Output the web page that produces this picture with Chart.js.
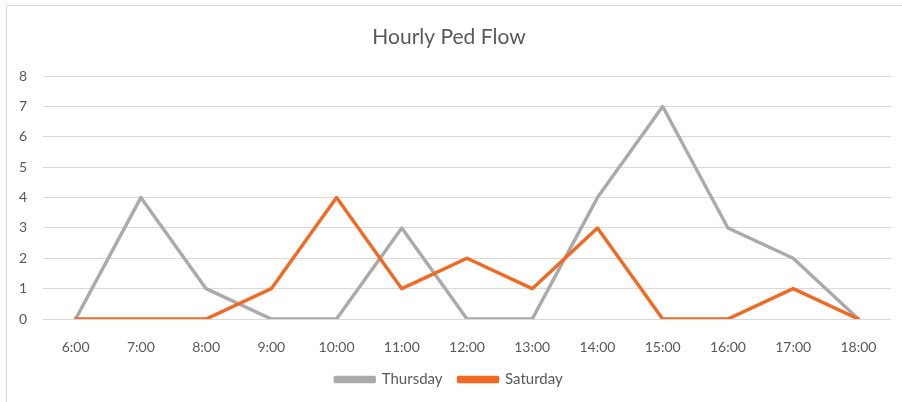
<!DOCTYPE html>
<html>
<head>
<meta charset="utf-8">
<script src="https://cdn.jsdelivr.net/npm/chart.js@4"></script>
<style>
  html, body { margin: 0; padding: 0; background: #fff; overflow: hidden; }
  #wrap { position: relative; width: 902px; height: 402px; }
  #frame {
    position: absolute; left: 6px; top: 5px; width: 904px; height: 404px;
    border: 1px solid #d9d9d9; box-sizing: border-box; pointer-events: none;
  }
  canvas { position: absolute; left: 0; top: 0; }
</style>
</head>
<body>
<div id="wrap">
  <canvas id="flow" width="902" height="402"></canvas>
  <div id="frame"></div>
</div>
<script>
const hours = ['6:00', '7:00', '8:00', '9:00', '10:00', '11:00', '12:00',
  '13:00', '14:00', '15:00', '16:00', '17:00', '18:00'];
const thursday = [0, 4, 1, 0, 0, 3, 0, 0, 4, 7, 3, 2, 0];
const saturday = [0, 0, 0, 1, 4, 1, 2, 1, 3, 0, 0, 1, 0];
const yTicks = [0, 1, 2, 3, 4, 5, 6, 7, 8];

const FONT = 'Lato, "Open Sans", sans-serif';
const GREY = '#aaaaaa';
const ORANGE = '#f26a22';

const ctx = document.getElementById('flow').getContext('2d');

new Chart(ctx, {
  type: 'line',
  data: {
    labels: hours,
    datasets: [
      {
        label: 'Thursday',
        data: thursday,
        borderColor: GREY,
        backgroundColor: GREY,
        order: 1
      },
      {
        // drawn last so the orange line sits on top
        label: 'Saturday',
        data: saturday,
        borderColor: ORANGE,
        backgroundColor: ORANGE,
        order: 0
      }
    ]
  },
  options: {
    responsive: false,
    animation: false,
    layout: { padding: { left: 7, right: 11, top: 0, bottom: 5 } },
    elements: {
      line: { tension: 0, borderWidth: 3.4, borderCapStyle: 'round', borderJoinStyle: 'round', fill: false },
      point: { radius: 0, hoverRadius: 0 }
    },
    plugins: {
      title: {
        display: true,
        text: 'Hourly Ped Flow',
        color: '#595959',
        font: { family: FONT, size: 21, weight: 'normal' },
        padding: { top: 25, bottom: 26 }
      },
      legend: {
        position: 'bottom',
        labels: {
          color: '#595959',
          font: { family: FONT, size: 15 },
          boxWidth: 39,
          boxHeight: 4,
          padding: 16,
          sort: (a, b) => a.datasetIndex - b.datasetIndex
        }
      },
      tooltip: { enabled: false }
    },
    scales: {
      x: {
        offset: true,
        grid: { display: false },
        border: { display: false },
        ticks: { color: '#595959', font: { family: FONT, size: 14 }, padding: 12, maxRotation: 0 },
        afterFit(scale) { scale.height = 37; }
      },
      y: {
        min: yTicks[0],
        max: yTicks[yTicks.length - 1],
        afterBuildTicks(scale) { scale.ticks = yTicks.map(v => ({ value: v })); },
        grid: { color: '#d9d9d9', lineWidth: 1, drawTicks: false },
        border: { display: false },
        ticks: { color: '#595959', font: { family: FONT, size: 14 }, padding: 16 },
        afterFit(scale) { scale.width = 36; }
      }
    }
  }
});
</script>
</body>
</html>
